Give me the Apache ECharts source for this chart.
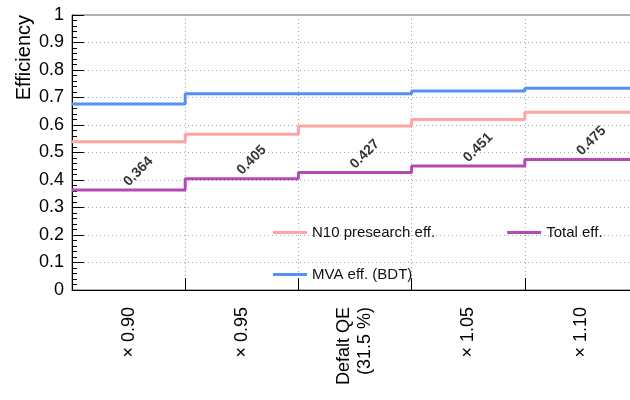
<!DOCTYPE html>
<html>
<head>
	<meta charset="utf-8">
	<title>Efficiency vs QE</title>
	<script src="https://cdn.jsdelivr.net/npm/echarts@6/dist/echarts.min.js"></script>
	<style>
		html, body { margin: 0; padding: 0; background: #fff; overflow: hidden; }
		#chart { width: 640px; height: 400px; }
	</style>
</head>
<body>
	<div id="chart"></div>
	<script>
		// bins (QE scale factors)
		var qeLabels = ['× 0.90', '× 0.95', 'Defalt QE\n(31.5 %)', '× 1.05', '× 1.10'];
		var mvaEff = [0.676, 0.714, 0.714, 0.724, 0.734];
		var presearchEff = [0.539, 0.566, 0.596, 0.620, 0.646];
		var totalEff = [0.364, 0.405, 0.427, 0.451, 0.475];

		var font = 'Liberation Sans, Arial, Helvetica, sans-serif';
		var gridColor = '#9ba6b4';

		// histogram-like step points: value of bin i holds over [i, i+1]
		function stepData(vals) {
			var pts = [];
			for (var i = 0; i < vals.length; i++) pts.push([i, vals[i]]);
			pts.push([vals.length, vals[vals.length - 1]]);
			return pts;
		}

		function stepSeries(name, vals, color) {
			return {
				name: name,
				type: 'line',
				step: 'end',
				xAxisIndex: 0,
				data: stepData(vals),
				symbol: 'none',
				lineStyle: { color: color, width: 3 },
				itemStyle: { color: color },
				animation: false
			};
		}

		var chart = echarts.init(document.getElementById('chart'));
		chart.setOption({
			animation: false,
			grid: {
				left: 72, right: 2, top: 15, bottom: 110,
				show: true, borderColor: '#666', borderWidth: 1
			},
			legend: [{
				data: ['N10 presearch eff.', 'Total eff.'],
				left: 268, top: 220,
				icon: 'rect', itemWidth: 34, itemHeight: 3, itemGap: 72,
				selectedMode: false,
				textStyle: { fontFamily: font, fontSize: 15, color: '#111' }
			}, {
				data: ['MVA eff. (BDT)'],
				left: 268, top: 262,
				icon: 'rect', itemWidth: 34, itemHeight: 3,
				selectedMode: false,
				textStyle: { fontFamily: font, fontSize: 15, color: '#111' }
			}],
			graphic: [{
				type: 'text',
				x: 24, y: 15,
				rotation: Math.PI / 2,
				style: {
					text: 'Efficiency',
					font: '20px ' + font,
					fill: '#000',
					align: 'right',
					verticalAlign: 'middle'
				}
			}],
			xAxis: [{
				type: 'value',
				min: 0, max: 5, interval: 1,
				axisLine: { show: true, lineStyle: { color: '#000', width: 1 } },
				axisTick: { show: false },
				axisLabel: { show: false },
				splitLine: { show: true, lineStyle: { color: gridColor, type: [1, 3], width: 1 } }
			}, {
				type: 'category',
				position: 'bottom',
				data: qeLabels,
				boundaryGap: true,
				axisLine: { show: false },
				axisTick: { show: true, inside: true, length: 12, interval: 0, lineStyle: { color: '#000' } },
				axisLabel: {
					interval: 0, rotate: 90, margin: 17,
					fontFamily: font, fontSize: 18, color: '#000', lineHeight: 21
				},
				splitLine: { show: false }
			}],
			yAxis: {
				type: 'value',
				min: 0, max: 1, interval: 0.1,
				axisLine: { show: true, lineStyle: { color: '#000', width: 1 } },
				axisTick: { show: true, inside: true, length: 12, lineStyle: { color: '#000' } },
				minorTick: { show: true, splitNumber: 5, length: 5, lineStyle: { color: '#000' } },
				axisLabel: { fontFamily: font, fontSize: 18, color: '#000', margin: 8 },
				splitLine: { show: true, lineStyle: { color: gridColor, type: [1, 3], width: 1 } }
			},
			series: [
				stepSeries('N10 presearch eff.', presearchEff, '#ffa3a3'),
				stepSeries('MVA eff. (BDT)', mvaEff, '#5590f5'),
				stepSeries('Total eff.', totalEff, '#b448b4'),
				{
					name: 'total labels',
					type: 'scatter',
					xAxisIndex: 1,
					data: totalEff,
					symbolSize: 0,
					silent: true,
					label: {
						show: true,
						position: 'inside',
						offset: [20, -6],
						rotate: 45,
						fontFamily: font,
						fontSize: 14,
						fontWeight: 'bold',
						color: '#000',
						formatter: function (p) { return p.value.toFixed(3); }
					}
				}
			]
		});
	</script>
</body>
</html>
